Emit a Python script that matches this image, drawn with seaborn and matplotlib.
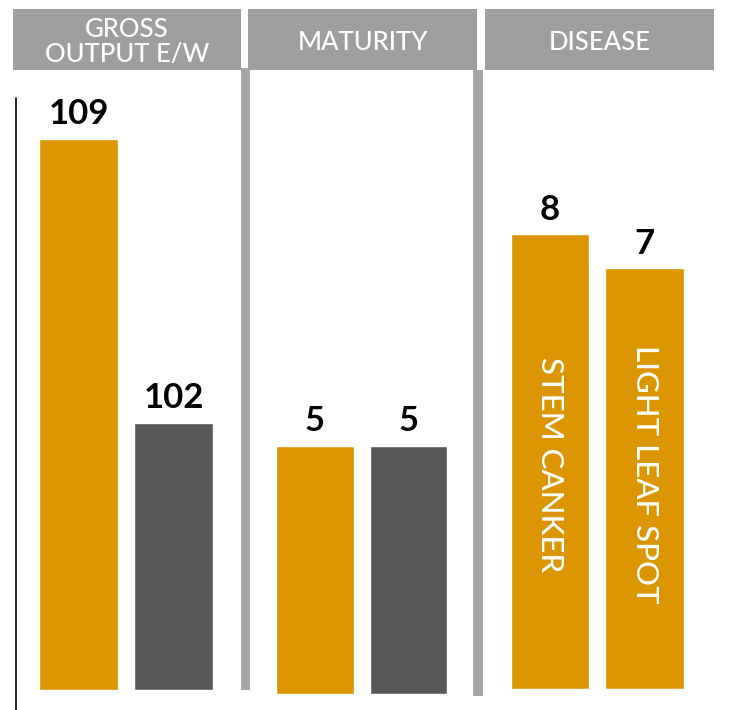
import matplotlib
matplotlib.use("Agg")
import matplotlib.pyplot as plt
import seaborn as sns
from matplotlib.patches import Rectangle
from matplotlib.lines import Line2D

# ---- data ----
panel_titles = ["GROSS\nOUTPUT E/W", "MATURITY", "DISEASE"]
gross_cats = ["Variety", "Control"]
gross_vals = [109, 102]
maturity_cats = ["Variety", "Control"]
maturity_vals = [5, 5]
disease_cats = ["STEM CANKER", "LIGHT LEAF SPOT"]
disease_vals = [8, 7]

ORANGE = "#DB9500"
DARK = "#585856"
HEADER = "#9E9E9E"
SEP = "#A6A6A6"

sns.set_style("white")
plt.rcParams["font.family"] = ["Lato", "DejaVu Sans"]

W, H = 746, 710
fig = plt.figure(figsize=(W / 100, H / 100), dpi=100)

def fx(px):
    return px / W

def fy(py):
    return 1 - py / H

def add_axes(left, right, top, bottom):
    return fig.add_axes([fx(left), fy(bottom), fx(right) - fx(left), fy(top) - fy(bottom)])

panels = [
    (gross_cats, gross_vals, [ORANGE, DARK], (31, 221, 98, 690), (95.42, 110.0)),
    (maturity_cats, maturity_vals, [ORANGE, DARK], (268.25, 455.25, 98, 694), (0, 12.0)),
    (disease_cats, disease_vals, [ORANGE, ORANGE], (502.75, 691.75, 98, 689), (-5.38, 12.0)),
]

axes = []
for cats, vals, cols, (l, r, t, b), ylim in panels:
    ax = add_axes(l, r, t, b)
    sns.barplot(x=cats, y=vals, hue=cats, palette=cols, width=0.83,
                ax=ax, legend=False, saturation=1)
    ax.set_xlim(-0.5, 1.5)
    ax.set_ylim(*ylim)
    lo = ylim[0]
    # bars rise from the bottom of the (truncated) value axis
    for p in ax.patches:
        top = p.get_y() + p.get_height()
        p.set_y(lo)
        p.set_height(top - lo)
    ax.axis("off")
    for c, v in zip(ax.containers, vals):
        ax.bar_label(c, labels=[f"{v:d}"], padding=6, fontsize=25,
                     fontweight="bold", color="black")
    axes.append(ax)

# rotated labels inside disease bars
ax3 = axes[2]
ax3.text(0, 4.38, disease_cats[0], rotation=-90, ha="center", va="top",
         color="white", fontsize=22.5, fontweight="medium")
ax3.text(1, 4.74, disease_cats[1], rotation=-90, ha="center", va="top",
         color="white", fontsize=22.5, fontweight="medium")

# header boxes
headers = [(13, 241), (248, 477), (485, 714)]
for (x0, x1), title in zip(headers, panel_titles):
    fig.add_artist(Rectangle((fx(x0), fy(70)), fx(x1) - fx(x0), fy(9) - fy(70),
                             transform=fig.transFigure, facecolor=HEADER, edgecolor="none"))
    fig.text(fx((x0 + x1) / 2), fy(42), title, ha="center", va="center",
             color="white", fontsize=18.5, fontweight="medium", linespacing=1.0)

# separators
for x0, x1, y0, y1 in [(241, 250, 68, 690), (473, 483, 70, 696)]:
    fig.add_artist(Rectangle((fx(x0), fy(y1)), fx(x1) - fx(x0), fy(y0) - fy(y1),
                             transform=fig.transFigure, facecolor=SEP, edgecolor="none"))

# left axis line
fig.add_artist(Line2D([fx(15.5), fx(15.5)], [fy(98), fy(710)], transform=fig.transFigure,
                      color="black", linewidth=1.2))

fig.savefig("out.png", dpi=100)
